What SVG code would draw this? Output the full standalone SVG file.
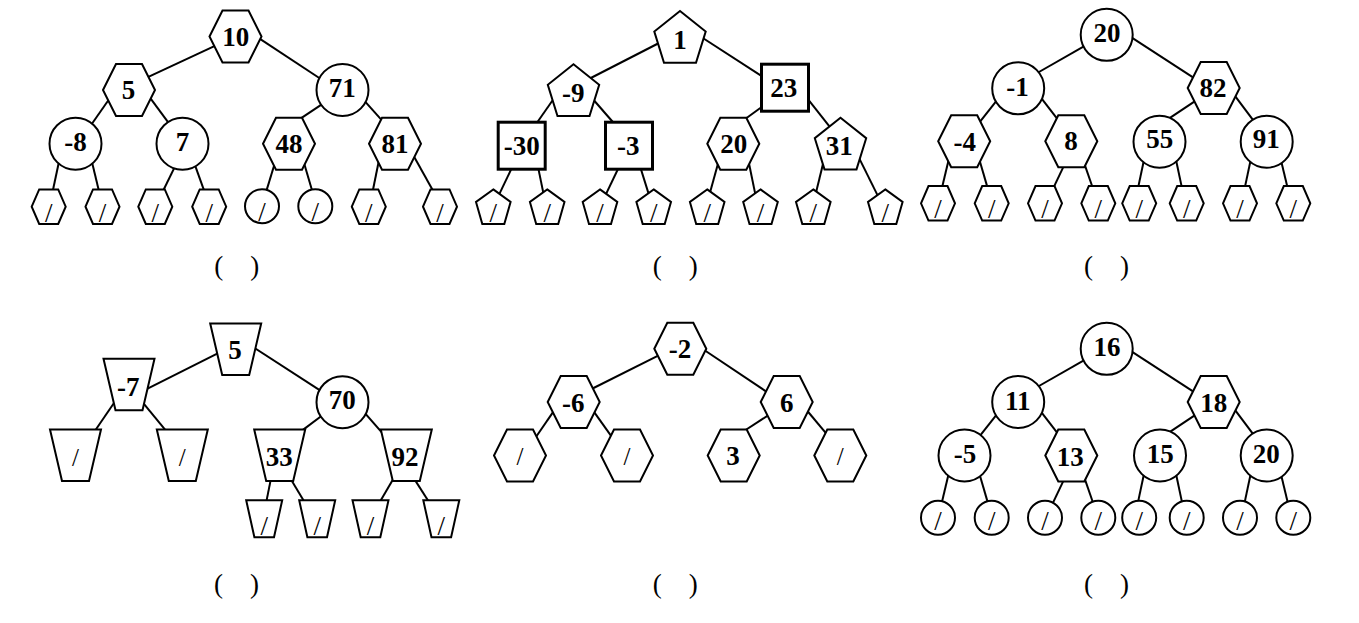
<svg xmlns="http://www.w3.org/2000/svg" xmlns:xlink="http://www.w3.org/1999/xlink" width="1359" height="623" viewBox="0 0 1359 623">
<style>
.sh{fill:#fff;stroke:#000;stroke-width:2;stroke-linejoin:miter}
.sq{fill:#fff;stroke:#000;stroke-width:3}
.lb{font-family:"Liberation Serif","Times New Roman",serif;font-weight:bold;font-size:27px;text-anchor:middle;fill:#000}
.sl{font-family:"Liberation Serif","Times New Roman",serif;font-size:27px;text-anchor:middle;fill:#000}
.sl2{font-size:25px}
.pa{font-family:"Liberation Serif","Times New Roman",serif;font-size:27px;text-anchor:middle;fill:#000;white-space:pre}
#edges line{stroke:#000;stroke-width:2}
</style>
<defs>
<polygon id="hexL" class="sh" points="-26,0 -13,-26 13,-26 26,0 13,26 -13,26"/>
<polygon id="hexS" class="sh" points="-17,0 -9.5,-17.3 9.5,-17.3 17,0 9.5,17.3 -9.5,17.3"/>
<polygon id="penL" class="sh" points="0,-26 25.7,-5.5 16,25.7 -16,25.7 -25.7,-5.5"/>
<polygon id="penS" class="sh" points="0,-17.3 17.3,-4.7 11,17.3 -11,17.3 -17.3,-4.7"/>
<polygon id="trapL" class="sh" points="-25.5,-25.7 25.5,-25.7 13.5,25.7 -13.5,25.7"/>
<polygon id="trapS" class="sh" points="-18,-18.5 18,-18.5 9.8,18.5 -9.8,18.5"/>
<circle id="cirL" class="sh" r="26"/>
<circle id="cirS" class="sh" r="17"/>
<rect id="sqr" class="sq" x="-23.5" y="-23.5" width="47" height="47"/>
</defs>
<rect width="1359" height="623" fill="#fff"/>
<g id="edges">
<line x1="216" y1="45.4" x2="147.3" y2="77.3"/>
<line x1="259.2" y1="38.4" x2="320.8" y2="79"/>
<line x1="110.1" y1="97.8" x2="91.6" y2="124.2"/>
<line x1="148.1" y1="95.2" x2="169.5" y2="124.1"/>
<line x1="323.3" y1="103.3" x2="300.8" y2="118.4"/>
<line x1="364.7" y1="101.1" x2="383.5" y2="122.2"/>
<line x1="59.5" y1="159.2" x2="52.7" y2="191.2"/>
<line x1="91.3" y1="159.2" x2="99" y2="191.2"/>
<line x1="175.9" y1="164.6" x2="163" y2="191"/>
<line x1="194.7" y1="164.4" x2="204.3" y2="191.1"/>
<line x1="274.5" y1="164.2" x2="265.8" y2="192.9"/>
<line x1="304.4" y1="164.2" x2="312.6" y2="192.2"/>
<line x1="379.5" y1="157.5" x2="372.7" y2="191.2"/>
<line x1="413" y1="154.8" x2="433.2" y2="190.9"/>
<line x1="661" y1="42" x2="587.9" y2="79.5"/>
<line x1="700.5" y1="36.5" x2="762.5" y2="76.6"/>
<line x1="555.1" y1="96.7" x2="536.6" y2="123.2"/>
<line x1="591.5" y1="97.5" x2="613.7" y2="123"/>
<line x1="762.4" y1="106.5" x2="745.9" y2="118.5"/>
<line x1="808.1" y1="99.3" x2="830.2" y2="127.4"/>
<line x1="512.6" y1="166.3" x2="498.7" y2="195.4"/>
<line x1="537.8" y1="165.9" x2="543.9" y2="195.6"/>
<line x1="619.3" y1="166.3" x2="605.4" y2="195.4"/>
<line x1="639.9" y1="165.9" x2="649.2" y2="195.6"/>
<line x1="718.3" y1="162.5" x2="709.2" y2="195.6"/>
<line x1="748.8" y1="162.5" x2="755.6" y2="195.6"/>
<line x1="823.1" y1="163.5" x2="815.3" y2="195.6"/>
<line x1="857.4" y1="154.6" x2="879.6" y2="199.4"/>
<line x1="1084.3" y1="46.2" x2="1038.1" y2="72.5"/>
<line x1="1131.8" y1="37.7" x2="1195.7" y2="79.2"/>
<line x1="997.8" y1="99.2" x2="978.9" y2="123.1"/>
<line x1="1040.9" y1="97.6" x2="1057.5" y2="119.1"/>
<line x1="1197.7" y1="99.3" x2="1169.2" y2="118.4"/>
<line x1="1234.2" y1="94.9" x2="1253.5" y2="120.7"/>
<line x1="948.9" y1="158.8" x2="941.6" y2="189.6"/>
<line x1="979.1" y1="158.8" x2="988.1" y2="189.6"/>
<line x1="1065.3" y1="162.9" x2="1052.7" y2="189.4"/>
<line x1="1084" y1="162.7" x2="1093.3" y2="189.5"/>
<line x1="1144.5" y1="157.5" x2="1137.7" y2="189.6"/>
<line x1="1175.5" y1="157.5" x2="1182.3" y2="189.6"/>
<line x1="1251.2" y1="157.5" x2="1244.4" y2="189.6"/>
<line x1="1280.3" y1="157.5" x2="1288" y2="189.6"/>
<line x1="219.7" y1="352.3" x2="145.6" y2="389.7"/>
<line x1="251.7" y1="346.1" x2="320.8" y2="390.9"/>
<line x1="116.7" y1="399" x2="95" y2="430.8"/>
<line x1="140.2" y1="399.4" x2="165.9" y2="430.6"/>
<line x1="323.1" y1="414.7" x2="302.6" y2="430.1"/>
<line x1="364.7" y1="412.8" x2="383.5" y2="434.4"/>
<line x1="271.2" y1="477.4" x2="266.1" y2="502.9"/>
<line x1="289.2" y1="476.6" x2="304.8" y2="502.6"/>
<line x1="394.7" y1="476.5" x2="379.5" y2="502.6"/>
<line x1="412.8" y1="476.6" x2="429.3" y2="502.5"/>
<line x1="658.7" y1="355.3" x2="589.6" y2="390"/>
<line x1="704.2" y1="350" x2="767.5" y2="392.4"/>
<line x1="555.1" y1="409.1" x2="535.6" y2="437.5"/>
<line x1="591.5" y1="408.4" x2="612.7" y2="438.1"/>
<line x1="768.5" y1="415.1" x2="743.3" y2="431.5"/>
<line x1="807.4" y1="411" x2="827.8" y2="435.3"/>
<line x1="1084.3" y1="360.2" x2="1038.1" y2="386.5"/>
<line x1="1131.8" y1="351.7" x2="1195.7" y2="393.2"/>
<line x1="997.8" y1="413.2" x2="978.9" y2="437.1"/>
<line x1="1040.9" y1="411.6" x2="1057.5" y2="433.1"/>
<line x1="1197.7" y1="413.3" x2="1169.2" y2="432.4"/>
<line x1="1234.2" y1="408.9" x2="1253.5" y2="434.7"/>
<line x1="948.9" y1="472.8" x2="941.6" y2="503.6"/>
<line x1="979.1" y1="472.8" x2="988.1" y2="503.6"/>
<line x1="1065.3" y1="476.9" x2="1052.7" y2="503.4"/>
<line x1="1084" y1="476.7" x2="1093.3" y2="503.5"/>
<line x1="1144.5" y1="471.5" x2="1137.7" y2="503.6"/>
<line x1="1175.5" y1="471.5" x2="1182.3" y2="503.6"/>
<line x1="1251.2" y1="471.5" x2="1244.4" y2="503.6"/>
<line x1="1280.3" y1="471.5" x2="1288" y2="503.6"/>
</g>

<!-- Tree 1 -->
<g id="t1-n10"><use href="#hexL" x="235.5" y="36.5"/><text class="lb" x="235.8" y="45.7">10</text></g>
<g id="t1-n5"><use href="#hexL" x="129" y="90"/><text class="lb" x="128.5" y="99.3">5</text></g>
<g id="t1-n71"><use href="#cirL" x="342.5" y="90"/><text class="lb" x="342.3" y="97">71</text></g>
<g id="t1-nm8"><use href="#cirL" x="75.5" y="143.7"/><text class="lb" x="75.5" y="150.7">-8</text></g>
<g id="t1-n7"><use href="#cirL" x="182.5" y="143.7"/><text class="lb" x="182.5" y="150.7">7</text></g>
<g id="t1-n48"><use href="#hexL" x="289" y="143.7"/><text class="lb" x="289" y="153.3">48</text></g>
<g id="t1-n81"><use href="#hexL" x="395" y="143.7"/><text class="lb" x="395" y="153.3">81</text></g>
<g id="t1-l1"><use href="#hexS" x="48.7" y="206.7"/><text class="sl" x="48.7" y="221.5">/</text></g>
<g id="t1-l2"><use href="#hexS" x="102.5" y="206.7"/><text class="sl" x="102.5" y="221.5">/</text></g>
<g id="t1-l3"><use href="#hexS" x="155.3" y="206.7"/><text class="sl" x="155.3" y="221.5">/</text></g>
<g id="t1-l4"><use href="#hexS" x="209.2" y="206.7"/><text class="sl" x="209.2" y="221.5">/</text></g>
<g id="t1-l5"><use href="#cirS" x="262" y="206.2"/><text class="sl" x="262" y="220.5">/</text></g>
<g id="t1-l6"><use href="#cirS" x="315.3" y="206.2"/><text class="sl" x="315.3" y="220.5">/</text></g>
<g id="t1-l7"><use href="#hexS" x="368.8" y="206.7"/><text class="sl" x="368.8" y="221.5">/</text></g>
<g id="t1-l8"><use href="#hexS" x="440" y="206.7"/><text class="sl" x="440" y="221.5">/</text></g>
<text id="t1-cap" class="pa" x="236.7" y="274.5" xml:space="preserve">(    )</text>

<!-- Tree 2 -->
<g id="t2-n1"><use href="#penL" x="680" y="37"/><text class="lb" x="680" y="49">1</text></g>
<g id="t2-nm9"><use href="#penL" x="573.5" y="90.3"/><text class="lb" x="573.3" y="101.7">-9</text></g>
<g id="t2-n23"><use href="#sqr" x="785" y="87.7"/><text class="lb" x="783.7" y="96.7">23</text></g>
<g id="t2-nm30"><use href="#sqr" x="521.7" y="145.7"/><text class="lb" x="521.7" y="155">-30</text></g>
<g id="t2-nm3"><use href="#sqr" x="629" y="145.7"/><text class="lb" x="628.3" y="155">-3</text></g>
<g id="t2-n20"><use href="#hexL" x="733.3" y="143.7"/><text class="lb" x="733.7" y="152.7">20</text></g>
<g id="t2-n31"><use href="#penL" x="840.5" y="143.7"/><text class="lb" x="839.3" y="155">31</text></g>
<g id="t2-l1"><use href="#penS" x="493.3" y="206.7"/><text class="sl" x="493.3" y="221.7">/</text></g>
<g id="t2-l2"><use href="#penS" x="547.2" y="206.7"/><text class="sl" x="547.2" y="221.7">/</text></g>
<g id="t2-l3"><use href="#penS" x="600" y="206.7"/><text class="sl" x="600" y="221.7">/</text></g>
<g id="t2-l4"><use href="#penS" x="653.7" y="206.7"/><text class="sl" x="653.7" y="221.7">/</text></g>
<g id="t2-l5"><use href="#penS" x="707.2" y="206.7"/><text class="sl" x="707.2" y="221.7">/</text></g>
<g id="t2-l6"><use href="#penS" x="760.5" y="206.7"/><text class="sl" x="760.5" y="221.7">/</text></g>
<g id="t2-l7"><use href="#penS" x="813.3" y="206.7"/><text class="sl" x="813.3" y="221.7">/</text></g>
<g id="t2-l8"><use href="#penS" x="885.3" y="206.7"/><text class="sl" x="885.3" y="221.7">/</text></g>
<text id="t2-cap" class="pa" x="675.2" y="274.5" xml:space="preserve">(    )</text>

<!-- Tree 3 -->
<g id="t3-n20"><use href="#cirL" x="1106.7" y="34.8"/><text class="lb" x="1107" y="41.7">20</text></g>
<g id="t3-nm1"><use href="#cirL" x="1018.2" y="88.3"/><text class="lb" x="1017.5" y="95.7">-1</text></g>
<g id="t3-n82"><use href="#hexL" x="1213.7" y="88"/><text class="lb" x="1213" y="96.7">82</text></g>
<g id="t3-nm4"><use href="#hexL" x="964.2" y="141.3"/><text class="lb" x="964.7" y="150.7">-4</text></g>
<g id="t3-n8"><use href="#hexL" x="1071.3" y="141.3"/><text class="lb" x="1071" y="150.3">8</text></g>
<g id="t3-n55"><use href="#cirL" x="1159.5" y="141.7"/><text class="lb" x="1159.7" y="147.7">55</text></g>
<g id="t3-n91"><use href="#cirL" x="1266.7" y="141.7"/><text class="lb" x="1266.3" y="147.7">91</text></g>
<g id="t3-l1"><use href="#hexS" x="938" y="203.3"/><text class="sl" x="938" y="218.3">/</text></g>
<g id="t3-l2"><use href="#hexS" x="991.7" y="203.3"/><text class="sl" x="991.7" y="218.3">/</text></g>
<g id="t3-l3"><use href="#hexS" x="1045" y="203.3"/><text class="sl" x="1045" y="218.3">/</text></g>
<g id="t3-l4"><use href="#hexS" x="1098.3" y="203.3"/><text class="sl" x="1098.3" y="218.3">/</text></g>
<g id="t3-l5"><use href="#hexS" x="1139.2" y="203.3"/><text class="sl" x="1139.2" y="218.3">/</text></g>
<g id="t3-l6"><use href="#hexS" x="1186.7" y="203.3"/><text class="sl" x="1186.7" y="218.3">/</text></g>
<g id="t3-l7"><use href="#hexS" x="1240" y="203.3"/><text class="sl" x="1240" y="218.3">/</text></g>
<g id="t3-l8"><use href="#hexS" x="1293.3" y="203.3"/><text class="sl" x="1293.3" y="218.3">/</text></g>
<text id="t3-cap" class="pa" x="1106.5" y="274.5" xml:space="preserve">(    )</text>

<!-- Tree 4 -->
<g id="t4-n5"><use href="#trapL" x="235.7" y="349.3"/><text class="lb" x="235" y="359.3">5</text></g>
<g id="t4-nm7"><use href="#trapL" x="129" y="384.5"/><text class="lb" x="128.3" y="396">-7</text></g>
<g id="t4-n70"><use href="#cirL" x="342.5" y="402.2"/><text class="lb" x="342.3" y="409.3">70</text></g>
<g id="t4-l1"><use href="#trapL" x="75.5" y="455.3"/><text class="sl sl2" x="75.5" y="465.5">/</text></g>
<g id="t4-l2"><use href="#trapL" x="182.3" y="455.3"/><text class="sl sl2" x="182.3" y="465.5">/</text></g>
<g id="t4-n33"><use href="#trapL" x="279.7" y="455.3"/><text class="lb" x="279.3" y="465.7">33</text></g>
<g id="t4-n92"><use href="#trapL" x="406.3" y="455.3"/><text class="lb" x="405" y="465.7">92</text></g>
<g id="t4-l3"><use href="#trapS" x="264.2" y="518.8"/><text class="sl" x="264.2" y="535">/</text></g>
<g id="t4-l4"><use href="#trapS" x="317.2" y="518.8"/><text class="sl" x="317.2" y="535">/</text></g>
<g id="t4-l5"><use href="#trapS" x="370.5" y="518.8"/><text class="sl" x="370.5" y="535">/</text></g>
<g id="t4-l6"><use href="#trapS" x="441.3" y="518.8"/><text class="sl" x="441.3" y="535">/</text></g>
<text id="t4-cap" class="pa" x="236.5" y="592.5" xml:space="preserve">(    )</text>

<!-- Tree 5 -->
<g id="t5-nm2"><use href="#hexL" x="680.3" y="348.8"/><text class="lb" x="680" y="358.3">-2</text></g>
<g id="t5-nm6"><use href="#hexL" x="573.7" y="402"/><text class="lb" x="573.3" y="411.7">-6</text></g>
<g id="t5-n6"><use href="#hexL" x="786.7" y="402"/><text class="lb" x="786.7" y="411.7">6</text></g>
<g id="t5-l1"><use href="#hexL" x="520" y="455.5"/><text class="sl sl2" x="520" y="465">/</text></g>
<g id="t5-l2"><use href="#hexL" x="627" y="455.5"/><text class="sl sl2" x="627" y="465">/</text></g>
<g id="t5-n3"><use href="#hexL" x="733.7" y="455.5"/><text class="lb" x="733" y="465">3</text></g>
<g id="t5-l3"><use href="#hexL" x="840.3" y="455.5"/><text class="sl sl2" x="840.3" y="465">/</text></g>
<text id="t5-cap" class="pa" x="675.3" y="592.5" xml:space="preserve">(    )</text>

<!-- Tree 6 -->
<g id="t6-n16"><use href="#cirL" x="1106.7" y="348.8"/><text class="lb" x="1107" y="355.7">16</text></g>
<g id="t6-n11"><use href="#cirL" x="1018.2" y="402"/><text class="lb" x="1017.7" y="410">11</text></g>
<g id="t6-n18"><use href="#hexL" x="1213.7" y="402"/><text class="lb" x="1213.7" y="411.7">18</text></g>
<g id="t6-nm5"><use href="#cirL" x="964.5" y="455.5"/><text class="lb" x="965" y="463.3">-5</text></g>
<g id="t6-n13"><use href="#hexL" x="1071.3" y="455.5"/><text class="lb" x="1070.3" y="465.7">13</text></g>
<g id="t6-n15"><use href="#cirL" x="1160" y="455.5"/><text class="lb" x="1160.3" y="463.3">15</text></g>
<g id="t6-n20"><use href="#cirL" x="1266.7" y="455.5"/><text class="lb" x="1266.3" y="463.3">20</text></g>
<g id="t6-l1"><use href="#cirS" x="938" y="517.7"/><text class="sl" x="938" y="530">/</text></g>
<g id="t6-l2"><use href="#cirS" x="991.7" y="517.7"/><text class="sl" x="991.7" y="530">/</text></g>
<g id="t6-l3"><use href="#cirS" x="1045" y="517.7"/><text class="sl" x="1045" y="530">/</text></g>
<g id="t6-l4"><use href="#cirS" x="1098.3" y="517.7"/><text class="sl" x="1098.3" y="530">/</text></g>
<g id="t6-l5"><use href="#cirS" x="1139.2" y="517.7"/><text class="sl" x="1139.2" y="530">/</text></g>
<g id="t6-l6"><use href="#cirS" x="1186.7" y="517.7"/><text class="sl" x="1186.7" y="530">/</text></g>
<g id="t6-l7"><use href="#cirS" x="1240" y="517.7"/><text class="sl" x="1240" y="530">/</text></g>
<g id="t6-l8"><use href="#cirS" x="1293.3" y="517.7"/><text class="sl" x="1293.3" y="530">/</text></g>
<text id="t6-cap" class="pa" x="1106.5" y="592.5" xml:space="preserve">(    )</text>
</svg>
